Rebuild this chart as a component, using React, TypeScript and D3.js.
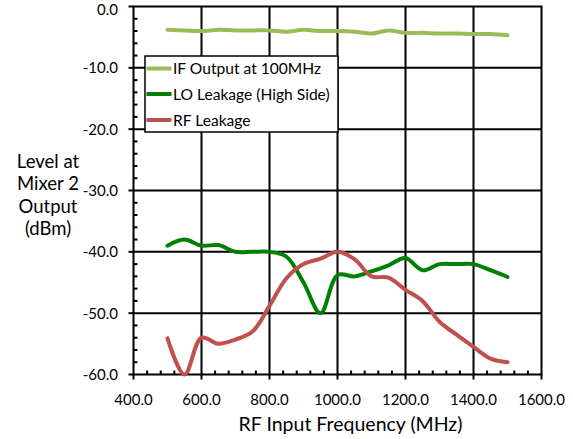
import React from "react";
import * as d3 from "d3";

const frequencies = [500, 550, 600, 650, 700, 750, 800, 850, 900, 950, 1000, 1050, 1100, 1150, 1200, 1250, 1300, 1350, 1400, 1450, 1500];
const ifOutput = [-3.8, -3.9, -4.0, -3.8, -3.9, -3.9, -3.9, -4.1, -3.8, -4.0, -4.0, -4.1, -4.4, -3.9, -4.3, -4.3, -4.4, -4.4, -4.5, -4.5, -4.7];
const loLeakage = [-39.0, -38.0, -39.0, -38.9, -40.0, -40.0, -40.0, -40.8, -45.0, -50.0, -43.8, -44.0, -43.2, -42.2, -41.0, -43.0, -42.0, -42.0, -42.0, -43.0, -44.1];
const rfLeakage = [-54.1, -60.0, -54.0, -55.0, -54.3, -53.0, -48.8, -44.3, -42.0, -41.1, -40.0, -41.2, -44.0, -44.2, -46.2, -48.0, -51.4, -53.5, -55.5, -57.4, -58.0];
const xTicks = [400, 600, 800, 1000, 1200, 1400, 1600];
const yTicks = [0, -10, -20, -30, -40, -50, -60];
const seriesNames = ["IF Output at 100MHz", "LO Leakage (High Side)", "RF Leakage"];
const seriesColors = ["#9BBB59", "#008000", "#C0504D"];
const yLabelLines = ["Level at", "Mixer 2", "Output", "(dBm)"];
const xTitle = "RF Input Frequency (MHz)";

const W = 573, H = 439;
const L = 133.5, R = 541.5, T = 6.5, B = 374.5;
const FONT = "Lato, 'Open Sans', sans-serif";

export default function App() {
  const x = d3.scaleLinear().domain([400, 1600]).range([L, R]);
  const y = d3.scaleLinear().domain([-60, 0]).range([B, T]);
  const series = [ifOutput, loLeakage, rfLeakage];
  const line = d3
    .line<[number, number]>()
    .x((d) => x(d[0]))
    .y((d) => y(d[1]))
    .curve(d3.curveCatmullRom.alpha(0.5));

  const xMinor = d3.range(400, 1600.1, 40).filter((v) => !xTicks.includes(v));
  const yMinor = d3.range(-60, 0.1, 2).filter((v) => !yTicks.includes(v));

  return (
    <svg width={W} height={H} style={{ position: "fixed", left: 0, top: 0, background: "#fff" }} fontFamily={FONT}>
      <rect x={0} y={0} width={W} height={H} fill="#fff" />
      {/* gridlines */}
      {xTicks.slice(1, -1).map((v) => (
        <line key={"gx" + v} x1={x(v)} x2={x(v)} y1={T} y2={B} stroke="#000" strokeWidth={2} />
      ))}
      {yTicks.slice(1, -1).map((v) => (
        <line key={"gy" + v} x1={L} x2={R} y1={y(v)} y2={y(v)} stroke="#000" strokeWidth={2} />
      ))}
      {/* border */}
      <rect x={L} y={T} width={R - L} height={B - T} fill="none" stroke="#000" strokeWidth={2} />
      {/* minor ticks */}
      {xMinor.map((v) => (
        <line key={"mx" + v} x1={x(v)} x2={x(v)} y1={B} y2={B - 4} stroke="#000" strokeWidth={2} />
      ))}
      {yMinor.map((v) => (
        <line key={"my" + v} x1={L} x2={L + 4} y1={y(v)} y2={y(v)} stroke="#000" strokeWidth={2} />
      ))}
      {/* major ticks */}
      {xTicks.map((v) => (
        <line key={"tx" + v} x1={x(v)} x2={x(v)} y1={B} y2={B + 5} stroke="#000" strokeWidth={2} />
      ))}
      {yTicks.map((v) => (
        <line key={"ty" + v} x1={L - 5} x2={L} y1={y(v)} y2={y(v)} stroke="#000" strokeWidth={2} />
      ))}
      {/* tick labels */}
      {xTicks.map((v) => (
        <text key={"lx" + v} x={x(v)} y={405} textAnchor="middle" fontSize={15} fill="#000">
          {v.toFixed(1)}
        </text>
      ))}
      {yTicks.map((v) => (
        <text key={"ly" + v} x={118} y={Math.max(y(v) + 5.5, 15)} textAnchor="end" fontSize={15} fill="#000">
          {v.toFixed(1)}
        </text>
      ))}
      {/* series */}
      {series.map((vals, i) => (
        <path
          key={"s" + i}
          d={line(frequencies.map((f, j) => [f, vals[j]] as [number, number])) || ""}
          fill="none"
          stroke={seriesColors[i]}
          strokeWidth={4}
          strokeLinecap="round"
          strokeLinejoin="round"
        />
      ))}
      {/* legend */}
      <rect x={145} y={56} width={193} height={76} fill="#fff" stroke="#000" strokeWidth={1.5} />
      {seriesNames.map((name, i) => {
        const ly = [68.5, 94, 120][i];
        return (
          <g key={"lg" + i}>
            <line x1={146.5} x2={171.5} y1={ly} y2={ly} stroke={seriesColors[i]} strokeWidth={4} />
            <text x={173} y={ly + 5.5} fontSize={15.6} fill="#000">
              {name}
            </text>
          </g>
        );
      })}
      {/* axis titles */}
      {yLabelLines.map((t, i) => (
        <text key={"yl" + i} x={48} y={167.5 + i * 22.5} textAnchor="middle" fontSize={18.5} fill="#000">
          {t}
        </text>
      ))}
      <text x={(L + R) / 2 + 13} y={431} textAnchor="middle" fontSize={19.5} fill="#000">
        {xTitle}
      </text>
    </svg>
  );
}
